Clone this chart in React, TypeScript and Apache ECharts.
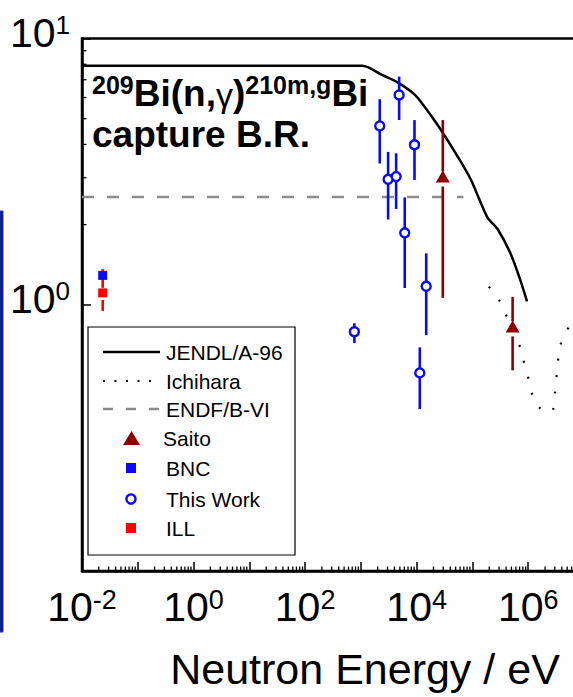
import React, { useEffect, useRef } from "react";
import * as echarts from "echarts";

const FONT = "'Liberation Sans', Arial, sans-serif";

// JENDL/A-96 evaluation (energy in eV, capture branching ratio)
const jendlE = [0.01, 1050, 1480, 2200, 4470, 9500, 17800, 31000, 54000, 93000, 185000, 280000, 480000, 720000, 950000];
const jendlBR = [7.9, 7.9, 7.73, 7.36, 6.86, 6.12, 5.16, 4.35, 3.61, 2.96, 2.13, 1.93, 1.56, 1.24, 1.03];

// Ichihara calculation
const ichiE = [197000, 309000, 420000, 577000, 730000, 860000, 1030000, 1200000, 1620000, 2500000, 2800000, 3000000, 3200000, 3400000, 3700000, 4800000, 6300000];
const ichiBR = [1.17, 1.03, 0.895, 0.783, 0.683, 0.597, 0.521, 0.455, 0.409, 0.394, 0.405, 0.462, 0.53, 0.608, 0.697, 0.796, 0.857];

// ENDF/B-VI
const endfE = [0.01, 69000];
const endfBR = [2.54, 2.54];

// This Work: energy, value, lower, upper
const thisE = [764, 2178, 4850, 3077, 4285, 9140, 6110, 14830, 11380];
const thisBR = [0.792, 4.695, 6.136, 2.96, 3.03, 3.99, 1.862, 1.173, 0.5546];
const thisLo = [0.718, 3.393, 4.943, 2.09, 2.29, 2.94, 1.156, 0.769, 0.4055];
const thisHi = [0.852, 5.914, 7.195, 3.75, 3.706, 4.94, 2.53, 1.56, 0.692];

// Saito
const saitoE = [29400, 525000];
const saitoBR = [3.03, 0.829];
const saitoLo = [1.062, 0.567];
const saitoHi = [4.94, 1.071];

// BNC
const bncE = [0.0235];
const bncBR = [1.289];

// ILL
const illE = [0.0235];
const illBR = [1.108];
const illLo = [0.948];
const illHi = [1.36];

// axis tick positions
const xDecades = [-2, -1, 0, 1, 2, 3, 4, 5, 6];
const minorMantissas = [2, 3, 4, 5, 6, 7, 8, 9];
const yMinorTicks = [2, 3, 4, 5, 6, 7, 8, 9];

const legendItems = ["JENDL/A-96", "Ichihara", "ENDF/B-VI", "Saito", "BNC", "This Work", "ILL"];

const BLUE = "#0a0af5";
const DARKRED = "#8b0000";
const RED = "#ff0000";

function pairs(xs: number[], ys: number[]) {
  return xs.map((x, i) => [x, ys[i]]);
}

function errRender(color: string, gapUp: number, gapDown: number) {
  return (params: any, api: any) => {
    const x = api.value(0);
    const c = api.coord([x, api.value(1)]);
    const lo = api.coord([x, api.value(2)]);
    const hi = api.coord([x, api.value(3)]);
    const st = { stroke: color, lineWidth: 2.6 };
    return {
      type: "group",
      children: [
        { type: "line", shape: { x1: hi[0], y1: hi[1], x2: c[0], y2: c[1] - gapUp }, style: st },
        { type: "line", shape: { x1: c[0], y1: c[1] + gapDown, x2: lo[0], y2: lo[1] }, style: st },
      ],
    };
  };
}

export default function App() {
  const ref = useRef<HTMLDivElement>(null);
  useEffect(() => {
    if (!ref.current) return;
    const chart = echarts.init(ref.current, undefined, { renderer: "svg" });

    const xMinor: number[][] = [];
    xDecades.forEach((d) => minorMantissas.forEach((m) => xMinor.push([m * Math.pow(10, d), 0.1])));
    const yMinor = yMinorTicks.map((v) => [0.01, v]);

    const sup = (v: number) => {
      const e = Math.round(Math.log10(v));
      return "{b|10}{s|" + e + "}";
    };

    const lx1 = 103, lx2 = 160, tx = 166;
    const ly = [352, 381, 409, 438, 468, 499, 528];

    const option: any = {
      animation: false,
      backgroundColor: "#fff",
      grid: {
        left: 82,
        top: 32,
        right: 16,
        bottom: 126,
        show: true,
        borderColor: "#000",
        borderWidth: 2.5,
        backgroundColor: "transparent",
      },
      xAxis: {
        type: "log",
        logBase: 10,
        min: 0.01,
        max: 1e7,
        splitNumber: 9,
        splitLine: { show: false },
        axisLine: { lineStyle: { color: "#000", width: 2.5 } },
        axisTick: { inside: true, length: 9, lineStyle: { color: "#000", width: 1.5 } },
        axisLabel: {
          margin: 15,
          formatter: (v: number) => {
            const e = Math.round(Math.log10(v));
            return e % 2 === 0 ? sup(v) : "";
          },
          rich: {
            b: { fontSize: 41, lineHeight: 41, fontFamily: FONT, color: "#000", padding: [12, 0, 0, 0], verticalAlign: "bottom" },
            s: { fontSize: 27, lineHeight: 27, fontFamily: FONT, color: "#000", verticalAlign: "top" },
          },
        },
        name: "Neutron Energy / eV",
        nameLocation: "middle",
        nameGap: 76,
        nameTextStyle: { fontSize: 43, fontFamily: FONT, color: "#000", padding: [0, 0, 0, 64] },
      },
      yAxis: {
        type: "log",
        logBase: 10,
        min: 0.1,
        max: 10,
        splitNumber: 2,
        splitLine: { show: false },
        axisLine: { lineStyle: { color: "#000", width: 2.5 } },
        axisTick: { inside: true, length: 9, lineStyle: { color: "#000", width: 1.5 } },
        axisLabel: {
          margin: 12,
          padding: [0, 0, 12, 0],
          formatter: (v: number) => (Math.abs(v - 0.1) < 1e-6 ? "" : sup(v)),
          rich: {
            b: { fontSize: 41, lineHeight: 41, fontFamily: FONT, color: "#000", padding: [12, 0, 0, 0], verticalAlign: "bottom" },
            s: { fontSize: 26, lineHeight: 26, fontFamily: FONT, color: "#000", verticalAlign: "top" },
          },
        },
      },
      series: [
        {
          name: "JENDL/A-96",
          type: "line",
          data: pairs(jendlE, jendlBR),
          showSymbol: false,
          smooth: 0.25,
          lineStyle: { color: "#000", width: 2.5 },
          z: 3,
        },
        {
          name: "Ichihara",
          type: "line",
          data: pairs(ichiE, ichiBR),
          showSymbol: false,
          smooth: 0.3,
          lineStyle: { color: "#000", width: 2.2, type: [2, 14.5] },
          z: 3,
        },
        {
          name: "ENDF/B-VI",
          type: "line",
          data: pairs(endfE, endfBR),
          showSymbol: false,
          lineStyle: { color: "#8c8c8c", width: 2.6, type: [12, 13] },
          z: 2,
        },
        {
          name: "This Work err",
          type: "custom",
          renderItem: errRender(BLUE, 4, 4),
          data: thisE.map((e, i) => [e, thisBR[i], thisLo[i], thisHi[i]]),
          encode: { x: 0, y: 1 },
          z: 4,
        },
        {
          name: "This Work",
          type: "scatter",
          data: pairs(thisE, thisBR),
          symbol: "circle",
          symbolSize: 9,
          itemStyle: { color: "#fff", borderColor: BLUE, borderWidth: 2.4, opacity: 1 },
          z: 5,
        },
        {
          name: "Saito err",
          type: "custom",
          renderItem: errRender(DARKRED, 5, 10),
          data: saitoE.map((e, i) => [e, saitoBR[i], saitoLo[i], saitoHi[i]]),
          encode: { x: 0, y: 1 },
          z: 4,
        },
        {
          name: "Saito",
          type: "scatter",
          data: pairs(saitoE, saitoBR),
          symbol: "triangle",
          symbolSize: [14, 12],
          itemStyle: { color: DARKRED, opacity: 1 },
          z: 5,
        },
        {
          name: "ILL err",
          type: "custom",
          renderItem: errRender(RED, 5, 7),
          data: illE.map((e, i) => [e, illBR[i], illLo[i], illHi[i]]),
          encode: { x: 0, y: 1 },
          z: 4,
        },
        {
          name: "ILL",
          type: "scatter",
          data: pairs(illE, illBR),
          symbol: "rect",
          symbolSize: 9,
          itemStyle: { color: RED, opacity: 1 },
          z: 5,
        },
        {
          name: "BNC",
          type: "scatter",
          data: pairs(bncE, bncBR),
          symbol: "rect",
          symbolSize: 9,
          itemStyle: { color: BLUE, opacity: 1 },
          z: 6,
        },
        {
          name: "x minor ticks",
          type: "custom",
          data: xMinor,
          encode: { x: 0, y: 1 },
          renderItem: (params: any, api: any) => {
            const p = api.coord([api.value(0), api.value(1)]);
            return { type: "line", shape: { x1: p[0], y1: p[1], x2: p[0], y2: p[1] - 4.5 }, style: { stroke: "#000", lineWidth: 1.3 } };
          },
          z: 1,
          silent: true,
        },
        {
          name: "y minor ticks",
          type: "custom",
          data: yMinor,
          encode: { x: 0, y: 1 },
          renderItem: (params: any, api: any) => {
            const p = api.coord([api.value(0), api.value(1)]);
            return { type: "line", shape: { x1: p[0], y1: p[1], x2: p[0] + 4.5, y2: p[1] }, style: { stroke: "#000", lineWidth: 1.3 } };
          },
          z: 1,
          silent: true,
        },
      ],
      graphic: [
        // edge of neighbouring panel
        { type: "rect", shape: { x: 0, y: 211, width: 3, height: 421 }, style: { fill: "#141466", stroke: "#2233cc", lineWidth: 1 }, z: 10 },
        // title
        {
          type: "text",
          left: 92,
          top: 71,
          z: 20,
          style: {
            text: "{s|209}{b|Bi(n,}{g|γ}{b|)}{s|210m,g}{b|Bi}\n{b|capture B.R.}",
            rich: {
              b: { fontSize: 37, lineHeight: 41, fontWeight: "bold", fontFamily: FONT, fill: "#000", verticalAlign: "bottom" },
              s: { fontSize: 25, lineHeight: 41, fontWeight: "bold", fontFamily: FONT, fill: "#000", verticalAlign: "top", padding: [1, 0, 0, 0] },
              g: { fontSize: 34, lineHeight: 41, fontFamily: FONT, fill: "#000", verticalAlign: "bottom" },
            },
          },
        },
        // legend box
        {
          type: "group",
          z: 20,
          children: [
            { type: "rect", shape: { x: 88, y: 327, width: 207, height: 228 }, style: { fill: "#fff", stroke: "#000", lineWidth: 1.2 } },
            { type: "line", shape: { x1: lx1, y1: ly[0], x2: lx2, y2: ly[0] }, style: { stroke: "#000", lineWidth: 2.5 } },
            { type: "line", shape: { x1: lx1, y1: ly[1], x2: lx2, y2: ly[1] }, style: { stroke: "#000", lineWidth: 2.2, lineDash: [2, 9.5] } },
            { type: "line", shape: { x1: lx1, y1: ly[2], x2: lx2 + 2, y2: ly[2] }, style: { stroke: "#8c8c8c", lineWidth: 2.6, lineDash: [10, 13] } },
            { type: "polygon", shape: { points: [[131.5, 431], [123, 445], [140, 445]] }, style: { fill: DARKRED } },
            { type: "rect", shape: { x: 126, y: ly[4] - 5, width: 10, height: 10 }, style: { fill: BLUE } },
            { type: "circle", shape: { cx: 131, cy: ly[5], r: 4.6 }, style: { fill: "#fff", stroke: BLUE, lineWidth: 2.4 } },
            { type: "rect", shape: { x: 126, y: ly[6] - 5, width: 10, height: 10 }, style: { fill: RED } },
            ...legendItems.map((t, i) => ({
              type: "text",
              x: i === 3 ? tx - 3 : tx,
              y: ly[i],
              style: { text: t, fontSize: 21, fontFamily: FONT, fill: "#000", verticalAlign: "middle", align: "left" },
            })),
          ],
        },
      ],
    };
    chart.setOption(option);
    return () => chart.dispose();
  }, []);
  return <div ref={ref} style={{ position: "fixed", left: 0, top: 0, width: 600, height: 697 }} />;
}
